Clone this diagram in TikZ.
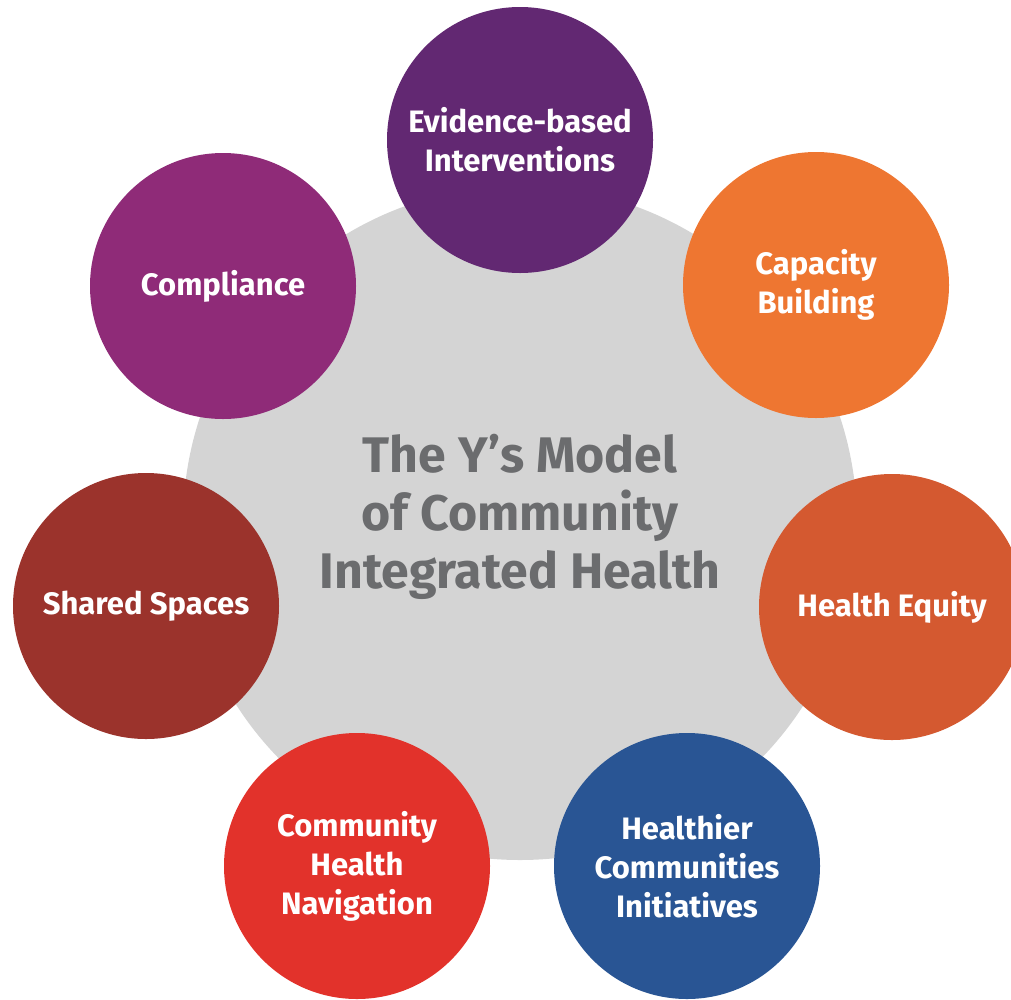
\documentclass[tikz,border=0pt]{standalone}
\usepackage{fontspec}
\setmainfont{Fira Sans}
\definecolor{cgray}{HTML}{D4D4D4}
\definecolor{ctitle}{HTML}{6B6C6E}
\definecolor{cevid}{HTML}{622872}
\definecolor{ccap}{HTML}{EE7631}
\definecolor{cequ}{HTML}{D45930}
\definecolor{chcom}{HTML}{295594}
\definecolor{cnav}{HTML}{E2322B}
\definecolor{cshared}{HTML}{9B332C}
\definecolor{ccompl}{HTML}{8F2B78}
\begin{document}
\begin{tikzpicture}[x=1pt,y=-1pt,
  bubble/.style={circle,minimum size=266pt,inner sep=0pt,text=white,align=center,
    font=\fontsize{31}{39}\selectfont\bfseries},
  hub/.style={circle,minimum size=674pt,inner sep=0pt,fill=cgray},
  title/.style={text=ctitle,align=center,inner sep=0pt,
    font=\fontsize{50}{58}\selectfont\bfseries}]
\useasboundingbox (0,0) rectangle (1011,999);
\clip (0,0) rectangle (1011,999);
\node[hub] (hub) at (520,523) {};
\node[title] (ttl) at (520,517) {The Y’s Model\\of Community\\Integrated Health};
\node[bubble,fill=cevid] (evid) at (520,140) {Evidence-based\\Interventions};
\node[bubble,fill=ccap] (cap) at (816,285) {Capacity\\Building};
\node[bubble,fill=cequ] (equ) at (892,607) {Health Equity};
\node[bubble,fill=chcom] (hcom) at (687,866) {Healthier\\Communities\\Initiatives};
\node[bubble,fill=cnav] (nav) at (357,866) {Community\\Health\\Navigation};
\node[bubble,fill=cshared] (shared) at (146,606) {Shared Spaces};
\node[bubble,fill=ccompl] (compl) at (223,286) {Compliance};
\end{tikzpicture}
\end{document}
